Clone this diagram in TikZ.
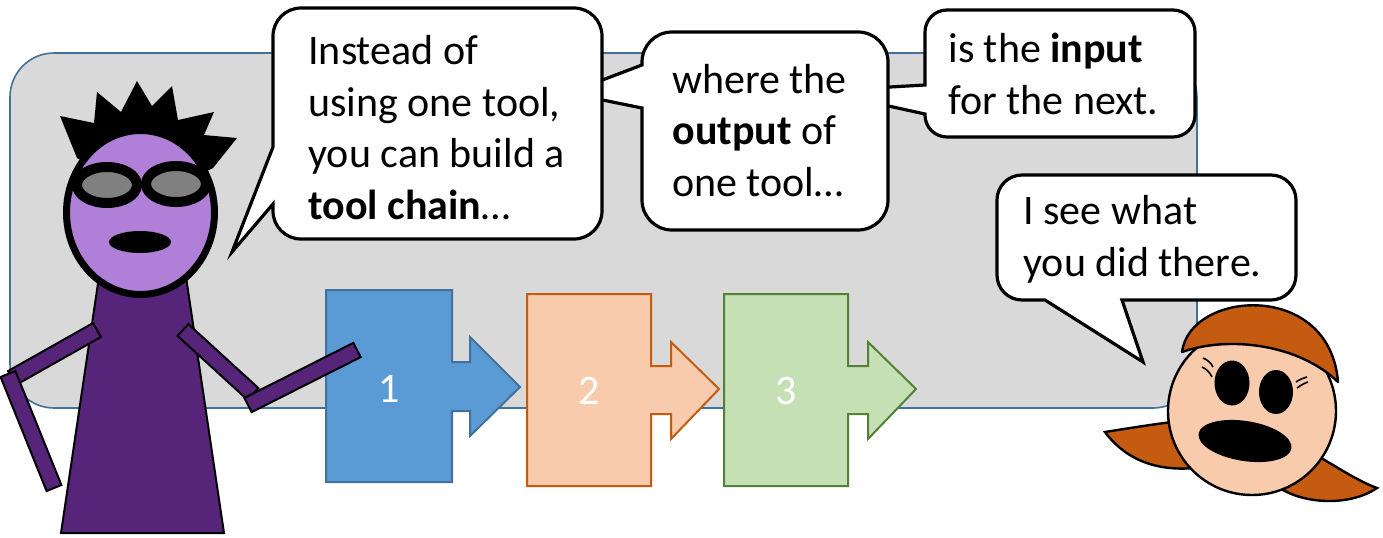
\documentclass[tikz,border=0pt]{standalone}
\usepackage{fontspec}
\setmainfont{Carlito}
\usetikzlibrary{calc}

\definecolor{bggray}{HTML}{D9D9D9}
\definecolor{bgedge}{HTML}{41719C}
\definecolor{blueFill}{HTML}{5B9BD5}
\definecolor{blueEdge}{HTML}{41719C}
\definecolor{orangeFill}{HTML}{F8CBAD}
\definecolor{orangeEdge}{HTML}{C55A11}
\definecolor{greenFill}{HTML}{C5E0B4}
\definecolor{greenEdge}{HTML}{548235}
\definecolor{headPurple}{HTML}{B07FD8}
\definecolor{bodyPurple}{HTML}{562479}
\definecolor{lensGray}{HTML}{808080}
\definecolor{skin}{HTML}{F8CBAD}
\definecolor{hair}{HTML}{C55A11}

\newcommand\saysize{\fontsize{21}{25.75}\selectfont}

% a limb: a rectangle of fixed width between two points
\newcommand\limb[2]{%
  \draw[limbstyle] ($#1!4pt!90:#2$) -- ($#2!4pt!-90:#1$)
    -- ($#2!4pt!90:#1$) -- ($#1!4pt!-90:#2$) -- cycle;}

\tikzset{
  backdrop/.style={fill=bggray, draw=bgedge, line width=0.8pt, rounded corners=22pt},
  bubble/.style={fill=white, draw=black, line width=1.6pt, line join=miter},
  % multi-line nodes sit on the baseline of their last line
  saytext/.style={anchor=base west, align=left, inner sep=0pt, font=\saysize},
  steplabel/.style={inner sep=0pt, text=white, font=\saysize},
  chainblue/.style={fill=blueFill, draw=blueEdge, line width=1pt},
  chainorange/.style={fill=orangeFill, draw=orangeEdge, line width=1pt},
  chaingreen/.style={fill=greenFill, draw=greenEdge, line width=1pt},
  limbstyle/.style={fill=bodyPurple, draw=black, line width=1pt, line join=miter},
  outline/.style={draw=black, line width=1.2pt},
  lens/.style={fill=lensGray, draw=black, line width=5pt},
  lash/.style={draw=black, line width=0.8pt},
}

\begin{document}
\begin{tikzpicture}[x=0.5pt, y=-0.5pt]
\useasboundingbox (0,0) rectangle (1383,537);

% grey backdrop
\draw[backdrop] (10,53) rectangle (1197,408);

% tool chain: three arrow-shaped boxes
\draw[chainblue] (326,290) -- (452,290) -- (452,362) -- (470,362) -- (470,337)
  -- (520,387) -- (470,436) -- (470,411) -- (452,411) -- (452,482) -- (326,482) -- cycle;
\draw[chainorange] (527,294) -- (651,294) -- (651,366) -- (671,366) -- (671,342)
  -- (719,389) -- (671,439) -- (671,414) -- (651,414) -- (651,486) -- (527,486) -- cycle;
\draw[chaingreen] (724,294) -- (848,294) -- (848,366) -- (868,366) -- (868,342)
  -- (916,389) -- (868,439) -- (868,414) -- (848,414) -- (848,486) -- (724,486) -- cycle;
\node[steplabel] (n1) at (389,389) {1};
\node[steplabel] (n2) at (589,391) {2};
\node[steplabel] (n3) at (786,391) {3};

% speech bubbles (drawn back to front)
\draw[bubble] (947,10) -- (1173,10) arc[start angle=-90, end angle=0, radius=22]
  -- (1195,115) arc[start angle=0, end angle=90, radius=22]
  -- (947,137) arc[start angle=90, end angle=180, radius=22]
  -- (925,114) -- (820,91) -- (925,85)
  -- (925,32) arc[start angle=180, end angle=270, radius=22] -- cycle;
\node[saytext] (say3) at (948,114) {is the \textbf{input}\\for the next.};

\draw[bubble] (672,32) -- (858,32) arc[start angle=-90, end angle=0, radius=30]
  -- (888,200) arc[start angle=0, end angle=90, radius=30]
  -- (672,230) arc[start angle=90, end angle=180, radius=30]
  -- (642,108) -- (568,93) -- (642,65)
  -- (642,62) arc[start angle=180, end angle=270, radius=30] -- cycle;
\node[saytext] (say2) at (672,196) {where the\\\textbf{output} of\\one tool…};

\draw[bubble] (301,8) -- (574,8) arc[start angle=-90, end angle=0, radius=28]
  -- (602,211) arc[start angle=0, end angle=90, radius=28]
  -- (301,239) arc[start angle=90, end angle=180, radius=28]
  -- (273,204) -- (232,252) -- (273,147)
  -- (273,36) arc[start angle=180, end angle=270, radius=28] -- cycle;
\node[saytext] (say1) at (308,219) {Instead of\\using one tool,\\you can build a\\\textbf{tool chain}…};

\draw[bubble] (1022,175) -- (1271,175) arc[start angle=-90, end angle=0, radius=25]
  -- (1296,275) arc[start angle=0, end angle=90, radius=25]
  -- (1122,300) -- (1143,362) -- (1045,300)
  -- (1022,300) arc[start angle=90, end angle=180, radius=25]
  -- (997,200) arc[start angle=180, end angle=270, radius=25] -- cycle;
\node[saytext] (say4) at (1023,276) {I see what\\you did there.};

% ---- the man ----
% spiky hair
\fill[black] (77,158) -- (60,116) -- (94,123) -- (97,92) -- (121,112) -- (137,81)
  -- (152,106) -- (172,86) -- (178,120) -- (214,112) -- (204,135) -- (237,138)
  -- (213,168) -- (150,200) -- cycle;
% body
\draw[fill=bodyPurple, draw=black, line width=1pt] (100,270) -- (185,270) -- (224,533) -- (61,533) -- cycle;
% arms
\limb{(97,330)}{(12,378)}
\limb{(8,374)}{(54,488)}
\limb{(183,330)}{(253,394)}
\limb{(248,405)}{(357,350)}
% head
\draw[fill=headPurple, draw=black, line width=3.5pt] (140.5,212.5) ellipse [x radius=74, y radius=82];
% sunglasses
\draw[lens] (107,185) ellipse [x radius=30, y radius=18];
\draw[lens] (176,184) ellipse [x radius=30, y radius=18];
% mouth
\fill[black] (140,242) ellipse [x radius=31, y radius=11];

% ---- the woman ----
% side hair
\draw[fill=hair, outline] (1105,432) .. controls (1130,428) and (1155,424) .. (1180,421)
  -- (1195,468) .. controls (1150,472) and (1122,455) .. (1105,432) -- cycle;
\draw[fill=hair, outline] (1310,452) .. controls (1335,465) and (1355,480) .. (1377,488)
  .. controls (1352,505) and (1310,505) .. (1283,490) -- cycle;
% face
\draw[fill=skin, outline] (1252,411) circle [radius=84];
% hair cap
\draw[fill=hair, outline, line join=round] (1182,352) .. controls (1190,290) and (1330,280) .. (1338,382)
  .. controls (1300,345) and (1230,335) .. (1182,352) -- cycle;
% eyes
\fill[black] (1232,383) ellipse [x radius=17.5, y radius=22.5];
\fill[black] (1276,392) ellipse [x radius=17, y radius=22];
% eyelashes
\draw[lash] (1203,358) .. controls (1208,360) and (1211,363) .. (1213,367);
\draw[lash] (1202,367) .. controls (1207,369) and (1210,373) .. (1212,377);
\draw[lash] (1296,382) .. controls (1300,379) and (1304,378) .. (1307,377);
\draw[lash] (1297,388) .. controls (1301,385) and (1305,383) .. (1308,382);
% mouth
\fill[black, rotate around={-9:(1245,441)}] (1245,441) ellipse [x radius=47, y radius=20];
\end{tikzpicture}
\end{document}
